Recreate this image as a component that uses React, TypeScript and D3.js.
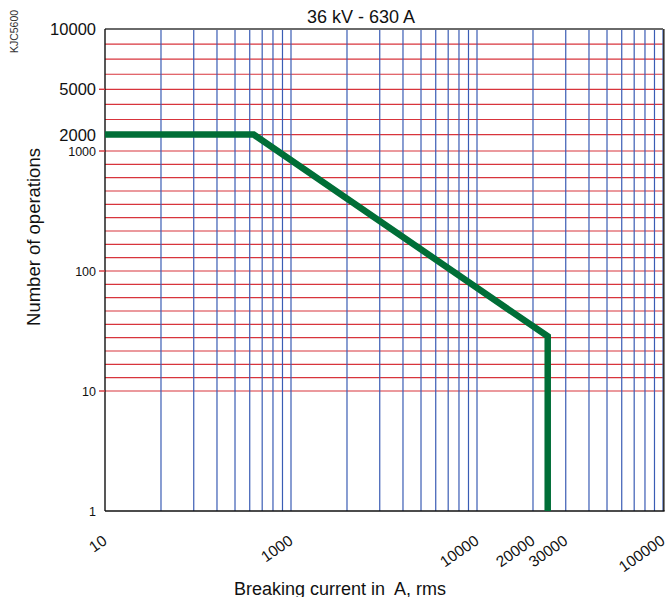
import React from "react";
import * as d3 from "d3";

// ---- data ----
const xTickValues = [100, 1000, 10000, 20000, 30000, 100000];
const xTickLabels = ["10", "1000", "10000", "20000", "30000", "100000"];
const yTickValues = [10000, 5000, 2000, 1000, 100, 10, 1];
const yTickLabels = ["10000", "5000", "2000", "1000", "100", "10", "1"];
const yTickMarked = [5000, 1000, 100, 10];
const xDecades = [100, 1000, 10000];
const xMultipliers = [2, 3, 4, 5, 6, 7, 8, 9, 10];
const yGridValues = [
  10, 20, 30, 40, 50, 60, 70, 80, 90,
  100, 200, 300, 400, 500, 600, 700, 800, 900,
  1000, 2000, 3000, 4000, 5000, 6250, 7500, 8750,
];
const curveCurrent = [100, 630, 24000, 24000];
const curveOperations = [2000, 2000, 51, 1];
const yBreaks = [1, 10, 100, 1000, 2000, 5000, 10000];

const W = 670;
const H = 597;
const L = 105;
const R = 663;
const T = 29;
const B = 511;
const FONT = "'Liberation Sans', Arial, Helvetica, sans-serif";

export default function App() {
  const x = d3.scaleLog().domain([100, 100000]).range([L, R]);
  const dec = 120;
  const y = d3
    .scaleLinear()
    .domain(yBreaks)
    .range([B, B - dec, B - 2 * dec, B - 3 * dec, B - 3 * dec - 16.4, B - 3 * dec - 61.7, T]);

  const xGrid: number[] = [];
  xDecades.forEach((d) => xMultipliers.forEach((m) => xGrid.push(d * m)));

  const pts: [number, number][] = curveCurrent.map((c, i) => [c, curveOperations[i]]);
  const line = d3
    .line<[number, number]>()
    .x((d) => x(d[0]))
    .y((d) => y(d[1]));

  return (
    <svg
      width={W}
      height={H}
      style={{ position: "absolute", left: 0, top: 0, background: "#fff" }}
      fontFamily={FONT}
    >
      {/* horizontal grid */}
      {yGridValues.map((v) => (
        <line key={"h" + v} x1={L} x2={R} y1={y(v)} y2={y(v)} stroke="#d8343c" strokeWidth={1.2} />
      ))}
      {/* vertical grid */}
      {xGrid.map((v) => (
        <line key={"v" + v} x1={x(v)} x2={x(v)} y1={T} y2={B} stroke="#3a5cb4" strokeWidth={1.2} />
      ))}
      {/* frame */}
      <line x1={L} x2={R} y1={T} y2={T} stroke="#6a6a6a" strokeWidth={1.8} />
      <line x1={R + 0.8} x2={R + 0.8} y1={T} y2={B} stroke="#333" strokeWidth={1.6} />
      <line x1={L} x2={R + 1.6} y1={B} y2={B} stroke="#111" strokeWidth={1.4} />
      <line x1={L} x2={L} y1={T} y2={B} stroke="#111" strokeWidth={1.4} />
      {/* y ticks */}
      {yTickMarked.map((v) => (
        <line key={"yt" + v} x1={L - 6} x2={L} y1={y(v)} y2={y(v)} stroke="#d8343c" strokeWidth={1.4} />
      ))}
      {yTickValues.map((v, i) => (
        <text
          key={"yl" + v}
          x={96}
          y={y(v)}
          dy="0.36em"
          textAnchor="end"
          fontSize={v >= 2000 ? 16.5 : 12.5}
          fill="#111"
        >
          {yTickLabels[i]}
        </text>
      ))}
      {/* x tick labels */}
      {xTickValues.map((v, i) => (
        <text
          key={"xl" + v}
          transform={`translate(${x(v) + 3},${543}) rotate(-35)`}
          textAnchor="end"
          fontSize={15.5}
          fill="#111"
        >
          {xTickLabels[i]}
        </text>
      ))}
      {/* curve */}
      <path
        d={line(pts) || ""}
        fill="none"
        stroke="#006e37"
        strokeWidth={6.5}
        strokeLinejoin="miter"
        strokeLinecap="butt"
      />
      {/* titles */}
      <text x={361} y={22.5} textAnchor="middle" fontSize={18} fill="#111">
        36 kV - 630 A
      </text>
      <text transform="translate(39.5,237) rotate(-90)" textAnchor="middle" fontSize={18.5} fill="#111">
        Number of operations
      </text>
      <text
        x={340}
        y={595}
        textAnchor="middle"
        fontSize={18}
        fill="#111"
        style={{ whiteSpace: "pre" }}
      >
        {"Breaking current in  A, rms"}
      </text>
      <text transform="translate(18.3,31.5) rotate(-90)" textAnchor="middle" fontSize={10.5} fill="#333">
        KJC5600
      </text>
    </svg>
  );
}
